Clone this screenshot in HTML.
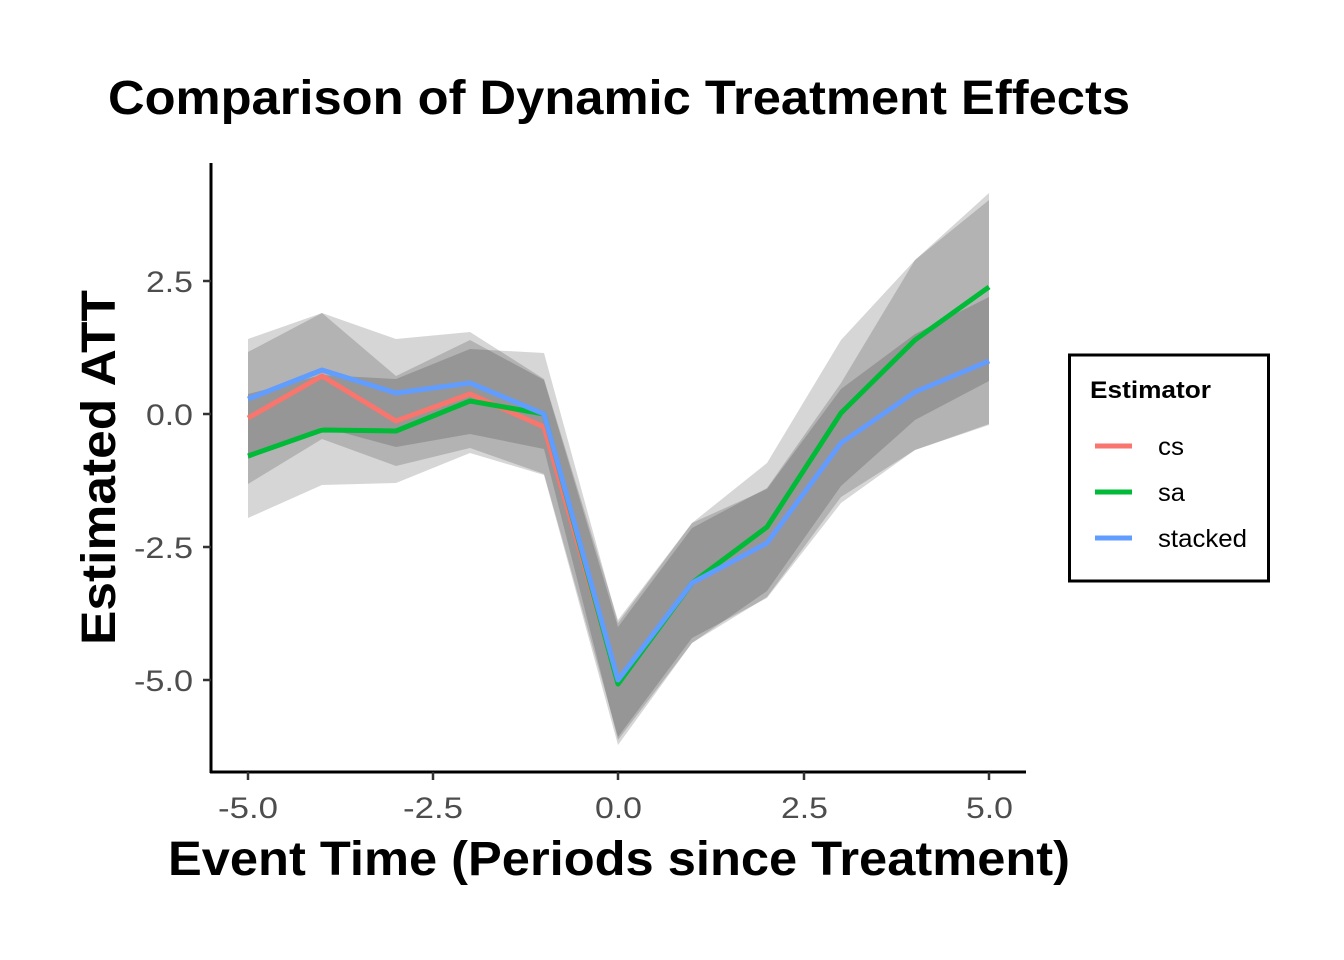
<!DOCTYPE html>
<html><head><meta charset="utf-8"><style>body{margin:0;background:#fff}svg{display:block}</style></head>
<body>
<svg id="s" width="1344" height="960" xmlns="http://www.w3.org/2000/svg" font-family="Liberation Sans, Arial, sans-serif">
<rect width="1344" height="960" fill="#fff"/>
<g id="rib"></g>
<g id="lines"></g>
<line x1="211" y1="163" x2="211" y2="773" stroke="#000" stroke-width="3"/>
<line x1="210" y1="772" x2="1026" y2="772" stroke="#000" stroke-width="3"/>
<g stroke="#333" stroke-width="2.5">
<line x1="203" y1="281" x2="211" y2="281"/><line x1="203" y1="414" x2="211" y2="414"/>
<line x1="203" y1="547" x2="211" y2="547"/><line x1="203" y1="680" x2="211" y2="680"/>
<line x1="248" y1="772" x2="248" y2="780"/><line x1="433" y1="772" x2="433" y2="780"/>
<line x1="618" y1="772" x2="618" y2="780"/><line x1="804" y1="772" x2="804" y2="780"/>
<line x1="989" y1="772" x2="989" y2="780"/>
</g>
<g fill="#4d4d4d" font-size="30" text-anchor="end">
<text x="193" y="292" textLength="47" lengthAdjust="spacingAndGlyphs">2.5</text><text x="193" y="425" textLength="47" lengthAdjust="spacingAndGlyphs">0.0</text>
<text x="193" y="558" textLength="59" lengthAdjust="spacingAndGlyphs">-2.5</text><text x="193" y="691" textLength="59" lengthAdjust="spacingAndGlyphs">-5.0</text>
</g>
<g fill="#4d4d4d" font-size="30">
<text x="218" y="818" textLength="60" lengthAdjust="spacingAndGlyphs">-5.0</text><text x="403" y="818" textLength="60" lengthAdjust="spacingAndGlyphs">-2.5</text><text x="595" y="818" textLength="47" lengthAdjust="spacingAndGlyphs">0.0</text>
<text x="781" y="818" textLength="47" lengthAdjust="spacingAndGlyphs">2.5</text><text x="966" y="818" textLength="47" lengthAdjust="spacingAndGlyphs">5.0</text>
</g>
<text x="108" y="114" font-size="48" font-weight="bold" textLength="1022" lengthAdjust="spacingAndGlyphs">Comparison of Dynamic Treatment Effects</text>
<text x="168" y="875" font-size="48" font-weight="bold" textLength="902" lengthAdjust="spacingAndGlyphs">Event Time (Periods since Treatment)</text>
<text transform="translate(115,645) rotate(-90)" font-size="48" font-weight="bold" textLength="355" lengthAdjust="spacingAndGlyphs">Estimated ATT</text>
<rect x="1069.5" y="355" width="199" height="226" fill="#fff" stroke="#000" stroke-width="3"/>
<text x="1090" y="398" font-size="24" font-weight="bold" textLength="121" lengthAdjust="spacingAndGlyphs">Estimator</text>
<line x1="1095" y1="446" x2="1132" y2="446" stroke="#F8766D" stroke-width="5"/>
<line x1="1095" y1="492" x2="1132" y2="492" stroke="#00BA38" stroke-width="5"/>
<line x1="1095" y1="538" x2="1132" y2="538" stroke="#619CFF" stroke-width="5"/>
<g font-size="25" fill="#000"><text x="1158" y="455" textLength="26" lengthAdjust="spacingAndGlyphs">cs</text><text x="1158" y="501" textLength="27" lengthAdjust="spacingAndGlyphs">sa</text><text x="1158" y="547" textLength="89" lengthAdjust="spacingAndGlyphs">stacked</text></g>
</svg>
<script>
var X=[248,322,396,470,544,618,692,767,841,915,989];
var cs=[418,376,421,394,427,682,583,543,443,355,312];
var cl=[418,376,421,394,427,682,583,543,443,392,361];
var sa=[456,430,431,401,414,684,583,527,413,340,287];
var st=[399,370,393,383,414,680,583,543,443,392,361];
var ws=[62,55,52,52,61,61,60,64,73,80,94];
var wt=[60,57,54,51,35,60,60,54,54,58,64];
var wc=[66,63,45,54,47,55,55,55,60,95,112];
var ns="http://www.w3.org/2000/svg";
function rib(y,w){var p="M";for(var i=0;i<11;i++)p+=X[i]+","+(y[i]-w[i])+" L";for(var i=10;i>=0;i--)p+=X[i]+","+(y[i]+w[i])+(i?" L":" Z");
var e=document.createElementNS(ns,"path");e.setAttribute("d",p);e.setAttribute("fill","#000");e.setAttribute("fill-opacity","0.16");document.getElementById("rib").appendChild(e);}
function ln(y,c){var p="M";for(var i=0;i<11;i++)p+=X[i]+","+y[i]+(i<10?" L":"");
var e=document.createElementNS(ns,"path");e.setAttribute("d",p);e.setAttribute("fill","none");e.setAttribute("stroke",c);e.setAttribute("stroke-width","5");e.setAttribute("stroke-linejoin","round");document.getElementById("lines").appendChild(e);}
rib(cs,wc);rib(sa,ws);rib(st,wt);
ln(cl,"#F8766D");ln(sa,"#00BA38");ln(st,"#619CFF");
</script>
</body></html>
